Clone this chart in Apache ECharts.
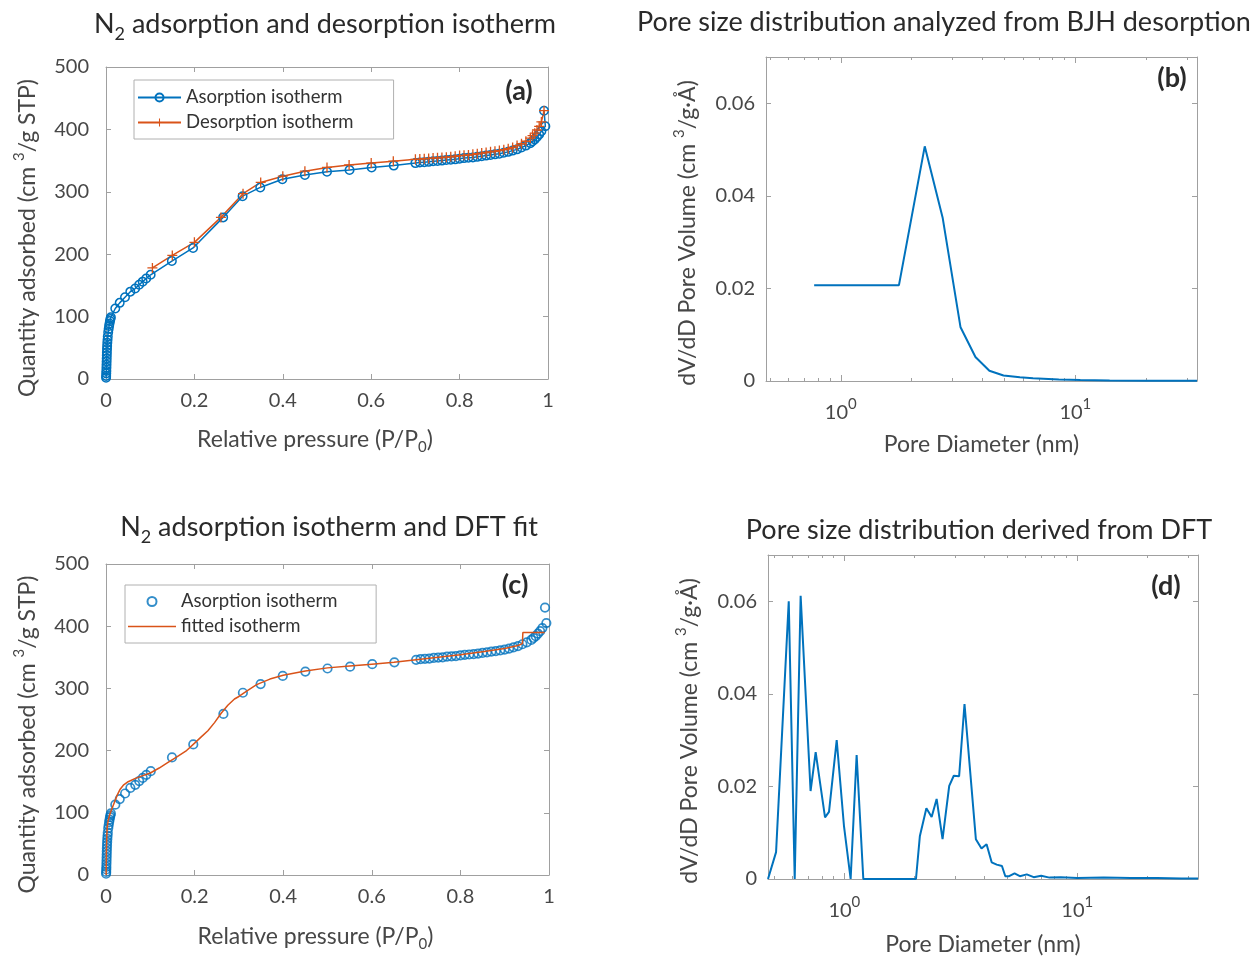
<!DOCTYPE html>
<html><head><meta charset="utf-8">
<script src="https://cdn.jsdelivr.net/npm/echarts@6/dist/echarts.min.js"></script>
<style>html,body{margin:0;padding:0;background:#fff}#c{width:1255px;height:957px}</style>
</head><body><div id="c"></div>
<script>
// ---------- data ----------
// (a)/(c) adsorption isotherm: relative pressure and quantity adsorbed
const adsP = [0.0002,0.0004,0.0006,0.0008,0.0010,0.0012,0.0014,0.0016,0.0018,0.0020,0.0023,0.0026,0.0030,0.0035,0.0040,0.0050,0.0060,0.0070,0.0080,0.0090,0.0100,0.0110,
  0.021,0.031,0.043,0.055,0.066,0.075,0.083,0.091,0.101,0.149,0.197,0.265,0.309,0.349,0.399,0.450,0.500,0.551,0.601,0.651,
  0.700,0.710,0.720,0.730,0.740,0.750,0.760,0.770,0.780,0.790,0.800,0.810,0.820,0.830,0.840,0.850,0.860,0.870,0.880,0.890,0.900,0.910,0.920,0.930,0.940,0.950,0.960,
  0.965,0.970,0.975,0.980,0.985,0.994,0.991];
const adsQ = [2,5,9,13,18,23,28,33,38,43,48,53,58,63,68,75,80,85,89,93,96,99,
  113,122,131,140,145,151,156,161,167,189,210,259,293,307,320,327,332,335,339,342,
  346,347,347.5,348,349,349.5,350,351,351.5,352,353,354,354.5,355,356,357,358,359,360,361,362.5,364,366,368,371,374,378,
  381,384,388,392,397,405,430];
// (a) desorption isotherm
const desP = [0.991,0.985,0.980,0.975,0.970,0.965,0.960,
  0.950,0.940,0.930,0.920,0.910,0.900,0.890,0.880,0.870,0.860,0.850,0.840,0.830,0.820,0.810,0.800,0.790,0.780,0.770,0.760,0.750,0.740,0.730,0.720,0.710,0.700,
  0.650,0.600,0.550,0.500,0.450,0.400,0.350,0.310,0.260,0.200,0.150,0.105];
const desQ = [430,412,405,399,394,390,386,
  381,377,374,371,369,367.5,366,365,364,363,362,361,360,359,358.5,358,357,356,355.5,355,354.5,354,353.5,353,352.5,352,
  349,346,343,339,333,325,315,297,259,219,198,178];
// (c) DFT fitted isotherm
const fitP = [0.0003,0.001,0.002,0.003,0.005,0.008,0.012,0.018,0.025,0.032,0.040,0.050,0.065,0.080,0.100,0.120,0.140,0.160,0.180,0.200,
  0.215,0.230,0.245,0.260,0.275,0.290,0.300,0.320,0.340,0.370,0.400,0.450,0.500,0.550,0.600,0.650,0.700,0.750,0.800,0.850,0.900,0.930,0.940,0.941,0.960,0.990];
const fitQ = [0,40,65,78,88,96,104,115,128,138,145,150,155,159,164,172,181,190,199,212,
  222,232,245,260,273,283,287,297,306,315,321,328,333,336,339,342,346,350,354,359,364,369,372,390,390,390];
// (b) BJH desorption pore size distribution
const bjhD = [0.77,1.77,2.28,2.72,3.24,3.75,4.3,4.94,5.8,6.6,8.5,10.5,14,20,27,33];
const bjhV = [0.0207,0.0207,0.0507,0.0352,0.0116,0.0052,0.0022,0.0012,0.0008,0.0006,0.0003,0.0002,0.0001,0.00006,0.00004,0.00003];
// (d) DFT pore size distribution
const dftD = [0.47,0.509,0.577,0.612,0.649,0.716,0.753,0.826,0.859,0.927,0.996,1.064,1.129,1.206,2.03,
  2.11,2.25,2.37,2.49,2.64,2.82,2.95,3.11,3.28,3.67,3.88,4.08,4.29,4.51,4.75,
  4.91,5.1,5.38,5.67,6.07,6.5,7.0,7.6,8.5,10,13,17,22,28,33];
const dftV = [0,0.0058,0.060,0,0.0612,0.019,0.0274,0.0133,0.0145,0.030,0.0115,0,0.0268,0,0,
  0.0093,0.0153,0.0134,0.0173,0.0086,0.0201,0.0223,0.0222,0.0378,0.0086,0.0066,0.0075,0.0036,0.0031,0.0028,
  0.0006,0.0006,0.0012,0.0006,0.001,0.0004,0.0007,0.0003,0.0004,0.0002,0.0003,0.0002,0.0002,0.0001,0.0001];
// tick values
const pressureTicks = {min:0, max:1, interval:0.2};
const quantityTicks = {min:0, max:500, interval:100};
const psdYLabels = [0, 0.02, 0.04, 0.06];
const logMajor = [1, 10];
const logMinor = [0.5,0.6,0.7,0.8,0.9,2,3,4,5,6,7,8,9,20,30];
const titles = ['{T|N}{S|2}{T| adsorption and desorption isotherm}','Pore size distribution analyzed from BJH desorption','{T|N}{S|2}{T| adsorption isotherm and DFT fit}','Pore size distribution derived from DFT'];

// ---------- style ----------
const BLUE='#0072BD', ORANGE='#D95319', TXT='#474747', AX='#a0a0a0', FONT='Lato';
const LS = 20, NS = 23, TS = 27;
const nameRichSub = {
  t:{fontFamily:FONT,fontSize:NS,color:TXT,verticalAlign:'top'},
  s:{fontFamily:FONT,fontSize:15,color:TXT,verticalAlign:'top',padding:[12,0,0,0]}
};
const nameRichSup = {
  u:{fontFamily:FONT,fontSize:NS,color:TXT,verticalAlign:'bottom'},
  p:{fontFamily:FONT,fontSize:15,color:TXT,verticalAlign:'bottom',padding:[0,0,12,0]}
};
const logRich = {
  n:{fontFamily:FONT,fontSize:LS,color:TXT,verticalAlign:'bottom'},
  e:{fontFamily:FONT,fontSize:15,color:TXT,verticalAlign:'bottom',padding:[0,0,11,0]}
};
const titleRich = {
  T:{fontFamily:FONT,fontSize:TS,color:'#2a2a2a',verticalAlign:'top'},
  S:{fontFamily:FONT,fontSize:18,color:'#2a2a2a',verticalAlign:'top',padding:[14,0,0,0]}
};
const plusPath = 'path://M-0.13,-1 H0.13 V-0.13 H1 V0.13 H0.13 V1 H-0.13 V0.13 H-1 V-0.13 H-0.13 Z';
const barIcon = 'path://M0,0 H48 V1.6 H0 Z';

function linX(gi, pos, t, labels, name, gap){
  return {type:'value', gridIndex:gi, position:pos, min:t.min, max:t.max, interval:t.interval,
    axisLine:{show:true,onZero:false,lineStyle:{color:AX,width:1}},
    axisTick:{show:true,inside:true,length:5,lineStyle:{color:AX}},
    axisLabel:{show:labels,fontFamily:FONT,fontSize:LS,color:TXT,margin:12},
    splitLine:{show:false},
    name: name||'', nameLocation:'middle', nameGap:gap||49,
    nameTextStyle:{rich:nameRichSub, padding:[0,24,0,0]}};
}
function linY(gi, pos, t, labels, name){
  return {type:'value', gridIndex:gi, position:pos, min:t.min, max:t.max, interval:t.interval,
    axisLine:{show:true,onZero:false,lineStyle:{color:AX,width:1}},
    axisTick:{show:true,inside:true,length:5,lineStyle:{color:AX}},
    axisLabel:{show:labels,fontFamily:FONT,fontSize:LS,color:TXT,margin:17},
    splitLine:{show:false},
    name: name||'', nameLocation:'middle', nameGap:67,
    nameTextStyle:{rich:nameRichSup, padding:[0,30,0,0]}};
}
function psdY(gi, pos, labels, name){
  return {type:'value', gridIndex:gi, position:pos, min:0, max:0.07,
    axisLine:{show:true,onZero:false,lineStyle:{color:AX,width:1}},
    axisTick:{show:true,inside:true,length:5,customValues:psdYLabels,lineStyle:{color:AX}},
    axisLabel:{show:labels,customValues:psdYLabels,fontFamily:FONT,fontSize:LS,color:TXT,margin:11},
    splitLine:{show:false},
    name: name||'', nameLocation:'middle', nameGap:67,
    nameTextStyle:{rich:nameRichSup, padding:[0,28,0,0]}};
}
function logX(gi, pos, min, max, minor, labels, name, showLine, gap){
  return {type:'log', logBase:10, gridIndex:gi, position:pos, min:min, max:max,
    axisLine:{show:showLine,onZero:false,lineStyle:{color:AX,width:1}},
    axisTick:{show:true,inside:true,length:minor?3:6,customValues:minor?logMinor:logMajor,lineStyle:{color:AX}},
    axisLabel:{show:labels,customValues:logMajor,margin:16,
      formatter:function(v){return '{n|10}{e|'+Math.round(Math.log10(v))+'}';}, rich:logRich},
    splitLine:{show:false}, minorTick:{show:false},
    name: name||'', nameLocation:'middle', nameGap:gap||52,
    nameTextStyle:{fontFamily:FONT,fontSize:NS,color:TXT}};
}
const pairs = (xs, ys) => xs.map((x,i)=>[x, ys[i]]);
function txt(x, y, s, extra){
  return {type:'text', x:x, y:y, style:Object.assign({text:s, fontFamily:FONT, fontSize:TS, fill:'#2a2a2a',
    align:'center', textAlign:'center', verticalAlign:'middle', textVerticalAlign:'middle'}, extra||{})};
}

const option = {
  backgroundColor:'#fff',
  animation:false,
  grid:[
    {left:106, top:67, width:442, height:312},
    {left:766, top:57, width:431, height:324},
    {left:106, top:564, width:443, height:311},
    {left:768, top:555, width:430, height:325}
  ],
  xAxis:[
    linX(0,'bottom',pressureTicks,true,'{t|Relative pressure (P/P}{s|0}{t|)}',49),
    linX(0,'top',pressureTicks,false),
    logX(1,'bottom',0.48,33,false,true,'Pore Diameter (nm)',true,52),
    logX(1,'bottom',0.48,33,true,false,'',false),
    logX(1,'top',0.48,33,false,false,'',true),
    logX(1,'top',0.48,33,true,false,'',false),
    linX(2,'bottom',pressureTicks,true,'{t|Relative pressure (P/P}{s|0}{t|)}',50),
    linX(2,'top',pressureTicks,false),
    logX(3,'bottom',0.47,33,false,true,'Pore Diameter (nm)',true,54),
    logX(3,'bottom',0.47,33,true,false,'',false),
    logX(3,'top',0.47,33,false,false,'',true),
    logX(3,'top',0.47,33,true,false,'',false)
  ],
  yAxis:[
    linY(0,'left',quantityTicks,true,'{u|Quantity adsorbed (cm }{p|3}{u|/g STP)}'),
    linY(0,'right',quantityTicks,false),
    psdY(1,'left',true,'{u|dV/dD Pore Volume (cm }{p|3}{u|/g·Å)}'),
    psdY(1,'right',false),
    linY(2,'left',quantityTicks,true,'{u|Quantity adsorbed (cm }{p|3}{u|/g STP)}'),
    linY(2,'right',quantityTicks,false),
    psdY(3,'left',true,'{u|dV/dD Pore Volume (cm }{p|3}{u|/g·Å)}'),
    psdY(3,'right',false)
  ],
  legend:[
    {left:134, top:80, orient:'vertical', data:['Asorption isotherm','Desorption isotherm'],
     itemWidth:43, itemHeight:10, itemGap:6, padding:[8,40,7,3],
     borderColor:'#b0b0b0', borderWidth:1, backgroundColor:'#fff', selectedMode:false,
     textStyle:{fontFamily:FONT,fontSize:18.5,color:'#333'}},
    {left:125, top:585, orient:'vertical',
     data:['Asorption isotherm ', {name:'fitted isotherm', icon:barIcon}],
     itemWidth:48, itemHeight:9, itemGap:6, padding:[7,34,7,3],
     borderColor:'#b0b0b0', borderWidth:1, backgroundColor:'#fff', selectedMode:false,
     textStyle:{fontFamily:FONT,fontSize:18.5,color:'#333'}}
  ],
  series:[
    {name:'Asorption isotherm', type:'line', xAxisIndex:0, yAxisIndex:0, data:pairs(adsP,adsQ),
     color:BLUE, symbol:'circle', symbolSize:8.5,
     itemStyle:{color:'rgba(255,255,255,0)', borderColor:BLUE, borderWidth:1.5},
     lineStyle:{color:BLUE, width:1.5}},
    {name:'Desorption isotherm', type:'line', xAxisIndex:0, yAxisIndex:0, data:pairs(desP,desQ),
     color:ORANGE, symbol:plusPath, symbolSize:10,
     itemStyle:{color:ORANGE}, lineStyle:{color:ORANGE, width:1.5}},
    {name:'BJH', type:'line', xAxisIndex:2, yAxisIndex:2, data:pairs(bjhD,bjhV),
     showSymbol:false, symbol:'none', lineStyle:{color:BLUE, width:2}},
    {name:'Asorption isotherm ', type:'scatter', xAxisIndex:6, yAxisIndex:4, data:pairs(adsP,adsQ),
     color:BLUE, symbol:'circle', symbolSize:8.5,
     itemStyle:{color:'rgba(255,255,255,0)', borderColor:BLUE, borderWidth:1.7}},
    {name:'fitted isotherm', type:'line', xAxisIndex:6, yAxisIndex:4, data:pairs(fitP,fitQ),
     color:ORANGE, showSymbol:false, symbol:'none', lineStyle:{color:ORANGE, width:1.5}},
    {name:'DFT', type:'line', xAxisIndex:8, yAxisIndex:6, data:pairs(dftD,dftV),
     showSymbol:false, symbol:'none', lineStyle:{color:BLUE, width:2}}
  ],
  graphic:[
    txt(325, 27, titles[0], {rich:titleRich}),
    txt(944, 22, titles[1]),
    txt(329, 530, titles[2], {rich:titleRich}),
    txt(979, 530, titles[3]),
    txt(519, 91, '(a)', {fontSize:27, fontWeight:'bold'}),
    txt(1172, 78, '(b)', {fontSize:27, fontWeight:'bold'}),
    txt(515, 585, '(c)', {fontSize:27, fontWeight:'bold'}),
    txt(1166, 586, '(d)', {fontSize:27, fontWeight:'bold'})
  ]
};
const chart = echarts.init(document.getElementById('c'), null, {renderer:'canvas'});
chart.setOption(option);
</script></body></html>
